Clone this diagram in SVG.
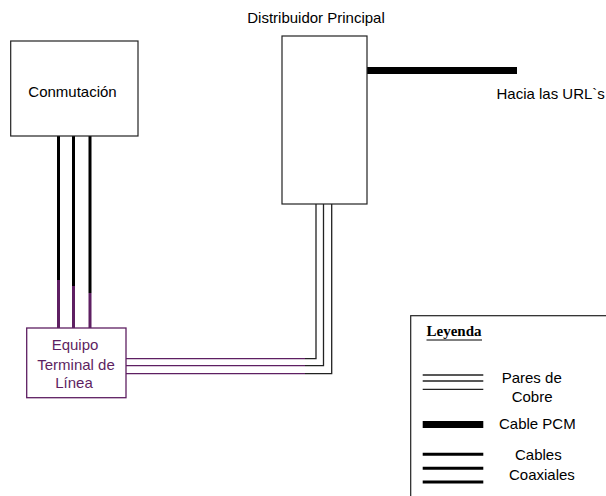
<svg xmlns="http://www.w3.org/2000/svg" width="606" height="496" viewBox="0 0 606 496">
<style>
text{font-family:"Liberation Sans",Arial,sans-serif;font-size:15px;fill:#000}
.box{fill:#fff;stroke:#222;stroke-width:1.2}
.pbox{fill:#fff;stroke:#5e1f62;stroke-width:1.3}
.ptxt{fill:#5e1f62}
.coax{stroke:#000;stroke-width:3;fill:none}
.pcoax{stroke:#5e1f62;stroke-width:3;fill:none}
.cu{stroke:#222;stroke-width:1.3;fill:none}
.pcu{stroke:#5e1f62;stroke-width:1.3;fill:none}
.pcm{stroke:#000;stroke-width:7;fill:none}
</style>
<rect width="606" height="496" fill="#fff"/>
<g id="connectors">
<path class="coax" d="M58.5 136V280M73.5 136V286M90 136V293"/>
<path class="pcoax" d="M58.5 280V328M73.5 286V328M90 293V328"/>
<path class="cu" d="M305 358.7H316V204M305 365.7H323.5V204M305 373.7H331.7V204"/>
<path class="pcu" d="M126 358.7H305M126 365.7H305M126 373.7H305"/>
<path class="pcm" d="M367 70.5H517"/>
</g>
<g id="conmutacion">
<rect class="box" x="10.7" y="41" width="127.3" height="95"/>
<text x="72.5" y="97" text-anchor="middle">Conmutación</text>
</g>
<g id="distribuidor">
<rect class="box" x="282" y="36" width="85" height="168"/>
<text x="316" y="23" text-anchor="middle">Distribuidor Principal</text>
</g>
<g id="urls">
<text x="496.5" y="99">Hacia las URL`s</text>
</g>
<g id="equipo">
<rect class="pbox" x="26.7" y="328" width="99.3" height="69.7"/>
<text class="ptxt" x="75" y="350" text-anchor="middle">Equipo</text>
<text class="ptxt" x="76" y="369.5" text-anchor="middle">Terminal de</text>
<text class="ptxt" x="74" y="388" text-anchor="middle">Línea</text>
</g>
<g id="leyenda">
<rect x="410.7" y="315.7" width="200" height="190" fill="#fff" stroke="#222" stroke-width="1.2"/>
<text x="426.5" y="336" style="font-family:'Liberation Serif','Times New Roman',serif;font-weight:bold;font-size:15px">Leyenda</text>
<line x1="426.5" y1="340" x2="482" y2="340" stroke="#000" stroke-width="1"/>
<path class="cu" d="M422.7 375H483.3M422.7 381H483.3M422.7 389.3H483.3"/>
<text x="501.7" y="383.3">Pares de</text>
<text x="511.7" y="401.7">Cobre</text>
<path class="pcm" d="M422.7 424.5H483.3"/>
<text x="499" y="429.3">Cable PCM</text>
<path class="coax" d="M422.7 454.3H483.3M422.7 468.3H483.3M422.7 482H483.3"/>
<text x="515" y="460">Cables</text>
<text x="509" y="480">Coaxiales</text>
</g>
</svg>
